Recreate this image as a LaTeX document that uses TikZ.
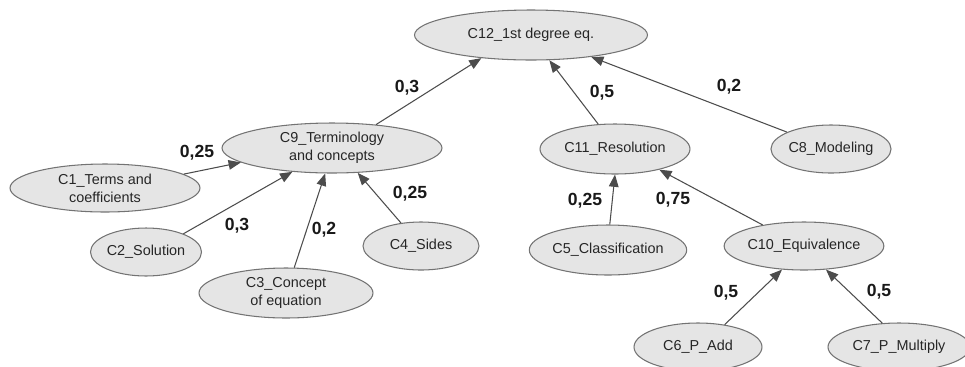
\documentclass[tikz,border=0pt]{standalone}
\usepackage{fontspec}
\setmainfont{Liberation Sans}
\usetikzlibrary{shapes.geometric,arrows.meta}
\tikzset{
  concept/.style={ellipse, draw=black!55, fill=black!10, line width=0.6pt, inner sep=0pt,
    align=center, font=\fontsize{8.2}{10.4}\selectfont, text=black!85},
  weight/.style={font=\bfseries\fontsize{10}{12}\selectfont, text=black!90, inner sep=0pt},
  link/.style={draw=black!70, line width=0.6pt, -{Triangle[length=7pt,width=5.5pt]}}
}
\begin{document}
\begin{tikzpicture}[x=0.02cm,y=-0.02cm]
\useasboundingbox (0,0) rectangle (965,366);
\clip (0,0) rectangle (965,366);
\node[concept, minimum width=4.66cm, minimum height=1.0cm] (c12) at (531,35) {C12\_1st degree eq.};
\node[concept, minimum width=4.4cm, minimum height=1.0cm] (c9) at (332,148) {C9\_Terminology\\and concepts};
\node[concept, minimum width=3.8cm, minimum height=0.96cm] (c1) at (105,188) {C1\_Terms and\\coefficients};
\node[concept, minimum width=2.12cm, minimum height=0.96cm] (c2) at (146,252) {C2\_Solution};
\node[concept, minimum width=3.48cm, minimum height=1.0cm] (c3) at (286,293) {C3\_Concept\\of equation};
\node[concept, minimum width=2.32cm, minimum height=0.96cm] (c4) at (421,246) {C4\_Sides};
\node[concept, minimum width=3.0cm, minimum height=1.0cm] (c11) at (615,149) {C11\_Resolution};
\node[concept, minimum width=2.12cm, minimum height=0.96cm] (c8) at (831,149) {C8\_Modeling};
\node[concept, minimum width=2.96cm, minimum height=1.0cm] (c5) at (608,250) {C5\_Classification};
\node[concept, minimum width=3.04cm, minimum height=0.96cm] (c10) at (804,246) {C10\_Equivalence};
\node[concept, minimum width=2.56cm, minimum height=0.96cm] (c6) at (698,347) {C6\_P\_Add};
\node[concept, minimum width=2.84cm, minimum height=0.96cm] (c7) at (899,347) {C7\_P\_Multiply};

\draw[link] (c1.10) -- (c9.189);
\draw[link] (c2.26) -- (c9.211);
\draw[link] (c3.72) -- (c9.255);
\draw[link] (c4.131) -- (c9.316);
\draw[link] (c9.28) -- (c12.205);
\draw[link] (c11.124) -- (c12.306);
\draw[link] (c8.159) -- (c12.340);
\draw[link] (c5.86) -- (c11.270);
\draw[link] (c10.153) -- (c11.335);
\draw[link] (c6.40) -- (c10.227);
\draw[link] (c7.125) -- (c10.313);

\node[weight] (w1) at (197,153) {0,25};
\node[weight] (w2) at (237,226) {0,3};
\node[weight] (w3) at (324,230) {0,2};
\node[weight] (w4) at (410,194) {0,25};
\node[weight] (w9) at (407,88) {0,3};
\node[weight] (w11) at (602,93) {0,5};
\node[weight] (w8) at (729,87) {0,2};
\node[weight] (w5) at (585,201) {0,25};
\node[weight] (w10) at (673,200) {0,75};
\node[weight] (w6) at (726,293) {0,5};
\node[weight] (w7) at (879,292) {0,5};
\end{tikzpicture}
\end{document}
